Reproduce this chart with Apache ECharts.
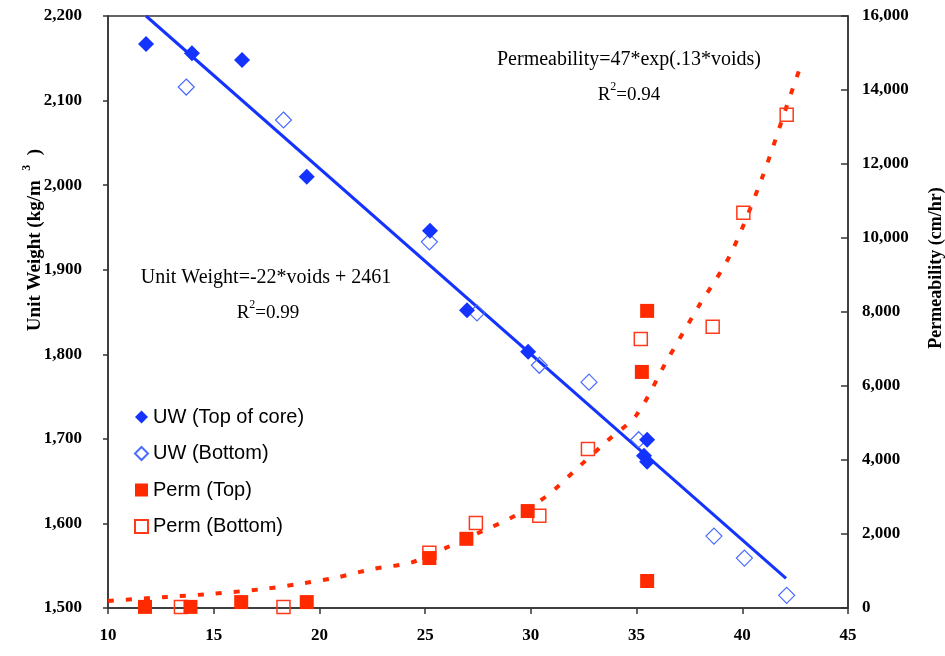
<!DOCTYPE html>
<html>
<head>
<meta charset="utf-8">
<style>
    html, body { margin: 0; padding: 0; background: #fff; }
    .chart { width: 945px; height: 656px; }
</style>
<script src="https://cdn.jsdelivr.net/npm/echarts@6/dist/echarts.min.js"></script>
</head>
<body>
<div class="chart"></div>
<script>
// 数据
const uwTopVoids = [11.8, 13.97, 16.34, 19.4, 25.23, 26.98, 29.87, 35.5, 35.35, 35.5]
const uwTopValues = [2167, 2156, 2148, 2010, 1946, 1852, 1803, 1699, 1680, 1673]
const uwBottomVoids = [13.7, 18.3, 25.2, 27.45, 30.4, 32.75, 35.1, 38.66, 40.1, 42.1]
const uwBottomValues = [2116, 2077, 1933, 1849, 1787, 1767, 1699, 1585, 1559, 1515]
const permTopVoids = [11.75, 13.9, 16.3, 19.4, 25.2, 26.95, 29.85, 35.25, 35.5, 35.5]
const permTopValues = [30, 30, 160, 160, 1350, 1870, 2620, 6380, 8030, 730]
const permBottomVoids = [13.45, 18.3, 25.2, 27.4, 30.4, 32.7, 35.2, 38.6, 40.05, 42.1]
const permBottomValues = [30, 30, 1490, 2300, 2490, 4300, 7270, 7600, 10680, 13330]
// 趋势线
const uwTrendVoids = [11.8, 42.07]
const uwTrendValues = [2200, 1535]
const permTrendVoids = [10, 12.8, 14.6, 17.3, 19, 20.7, 22.5, 24.4, 26, 27.6, 29.25, 30.8, 32.2, 33.6, 35, 36.4, 37.9, 39.4, 40.9, 42.2, 42.83]
const permTrendValues = [190, 300, 370, 510, 650, 810, 1050, 1240, 1630, 2050, 2490, 3050, 3780, 4510, 5220, 6650, 8120, 9510, 11570, 13730, 14760]
// 刻度
const xTicks = { min: 10, max: 45, interval: 5 }
const uwTicks = { min: 1500, max: 2200, interval: 100 }
const permTicks = { min: 0, max: 16000, interval: 2000 }

const zip = (xs, ys) => xs.map((x, i) => [x, ys[i]])

;(function () {
    const dom = document.querySelector(".chart")
    const echartsInstance = echarts.init(dom, null, { renderer: 'canvas' })
    const blue = '#1433ff'
    const red = '#ff2a00'
    const serif = "'Liberation Serif', 'Times New Roman', serif"
    const axisLabel = {
        color: '#000',
        fontFamily: serif,
        fontWeight: 'bold',
        fontSize: 17,
        formatter: v => v.toLocaleString('en-US')
    }
    const axisLine = { lineStyle: { color: '#333', width: 1.5 } }
    // 上标文字
    const supRich = size => ({
        a: { fontFamily: serif, fontSize: size, fill: '#000', lineHeight: 24, verticalAlign: 'bottom' },
        s: { fontFamily: serif, fontSize: 12, fill: '#000', lineHeight: 24, verticalAlign: 'top' }
    })
    const option = {
        animation: false,
        backgroundColor: '#fff',
        grid: {
            left: 108, right: 97, top: 16, bottom: 48,
            show: true, borderColor: '#333', borderWidth: 1.5
        },
        legend: {
            orient: 'vertical',
            left: 134,
            top: 407,
            padding: 0,
            itemWidth: 13,
            itemHeight: 13,
            itemGap: 16.5,
            data: ['UW (Top of core)', 'UW (Bottom)', 'Perm (Top)', 'Perm (Bottom)'],
            textStyle: {
                color: '#000',
                fontFamily: "'Liberation Sans', Arial, sans-serif",
                fontSize: 20,
                lineHeight: 20
            }
        },
        xAxis: {
            type: 'value',
            min: xTicks.min, max: xTicks.max, interval: xTicks.interval,
            axisLine: axisLine,
            axisTick: { length: 6, lineStyle: { color: '#333', width: 1.5 } },
            splitLine: { show: false },
            axisLabel: Object.assign({}, axisLabel, { margin: 19 })
        },
        yAxis: [
            {
                type: 'value',
                min: uwTicks.min, max: uwTicks.max, interval: uwTicks.interval,
                axisLine: Object.assign({ show: true }, axisLine),
                axisTick: { show: true, length: 5, lineStyle: { color: '#333', width: 1.5 } },
                splitLine: { show: false },
                axisLabel: Object.assign({}, axisLabel, { margin: 26 })
            },
            {
                type: 'value',
                position: 'right',
                min: permTicks.min, max: permTicks.max, interval: permTicks.interval,
                axisLine: Object.assign({ show: true }, axisLine),
                axisTick: { show: true, inside: true, length: 7, lineStyle: { color: '#333', width: 1.5 } },
                splitLine: { show: false },
                axisLabel: Object.assign({}, axisLabel, { margin: 14 })
            }
        ],
        series: [
            {
                name: 'UW trend',
                type: 'line',
                yAxisIndex: 0,
                data: zip(uwTrendVoids, uwTrendValues),
                showSymbol: false,
                lineStyle: { color: blue, width: 3 },
                z: 2
            },
            {
                name: 'Perm trend',
                type: 'line',
                yAxisIndex: 1,
                data: zip(permTrendVoids, permTrendValues),
                showSymbol: false,
                smooth: 0.3,
                lineStyle: { color: red, width: 4, type: [6, 12], cap: 'butt' },
                z: 2
            },
            {
                name: 'UW (Bottom)',
                type: 'scatter',
                yAxisIndex: 0,
                symbol: 'diamond',
                symbolSize: 16,
                data: zip(uwBottomVoids, uwBottomValues),
                itemStyle: { color: 'rgba(255,255,255,0)', borderColor: '#4a6bff', borderWidth: 1.2, opacity: 1 },
                z: 3
            },
            {
                name: 'Perm (Bottom)',
                type: 'scatter',
                yAxisIndex: 1,
                symbol: 'rect',
                symbolSize: 13,
                data: zip(permBottomVoids, permBottomValues),
                itemStyle: { color: 'rgba(255,255,255,0)', borderColor: '#ff3a1a', borderWidth: 1.5, opacity: 1 },
                z: 3
            },
            {
                name: 'Perm (Top)',
                type: 'scatter',
                yAxisIndex: 1,
                symbol: 'rect',
                symbolSize: 14,
                data: zip(permTopVoids, permTopValues),
                itemStyle: { color: red, opacity: 1 },
                z: 4
            },
            {
                name: 'UW (Top of core)',
                type: 'scatter',
                yAxisIndex: 0,
                symbol: 'diamond',
                symbolSize: 16,
                data: zip(uwTopVoids, uwTopValues),
                itemStyle: { color: blue, opacity: 1 },
                z: 4
            }
        ],
        graphic: [
            // 轴标题
            {
                type: 'text', x: 33, y: 240, rotation: Math.PI / 2,
                style: {
                    text: '{a|Unit Weight (kg/m  }{s|3}{a|  )}',
                    align: 'center', verticalAlign: 'middle',
                    rich: {
                        a: { fontFamily: serif, fontWeight: 'bold', fontSize: 19, fill: '#000', lineHeight: 24, verticalAlign: 'bottom' },
                        s: { fontFamily: serif, fontWeight: 'bold', fontSize: 12, fill: '#000', lineHeight: 24, verticalAlign: 'top' }
                    }
                }
            },
            {
                type: 'text', x: 936, y: 268, rotation: Math.PI / 2,
                style: {
                    text: 'Permeability (cm/hr)',
                    align: 'center', verticalAlign: 'middle',
                    fontFamily: serif, fontWeight: 'bold', fontSize: 18, fill: '#000'
                }
            },
            // 方程
            {
                type: 'text', x: 629, y: 60,
                style: {
                    text: 'Permeability=47*exp(.13*voids)',
                    align: 'center', verticalAlign: 'middle',
                    fontFamily: serif, fontSize: 20, fill: '#000'
                }
            },
            {
                type: 'text', x: 629, y: 93,
                style: {
                    text: '{a|R}{s|2}{a|=0.94}',
                    align: 'center', verticalAlign: 'middle',
                    rich: supRich(19)
                }
            },
            {
                type: 'text', x: 266, y: 278,
                style: {
                    text: 'Unit Weight=-22*voids + 2461',
                    align: 'center', verticalAlign: 'middle',
                    fontFamily: serif, fontSize: 20, fill: '#000'
                }
            },
            {
                type: 'text', x: 268, y: 311,
                style: {
                    text: '{a|R}{s|2}{a|=0.99}',
                    align: 'center', verticalAlign: 'middle',
                    rich: supRich(19)
                }
            }
        ]
    }
    echartsInstance.setOption(option)
    window.addEventListener("resize", () => {
        echartsInstance.resize()
    })
})()
</script>
</body>
</html>
